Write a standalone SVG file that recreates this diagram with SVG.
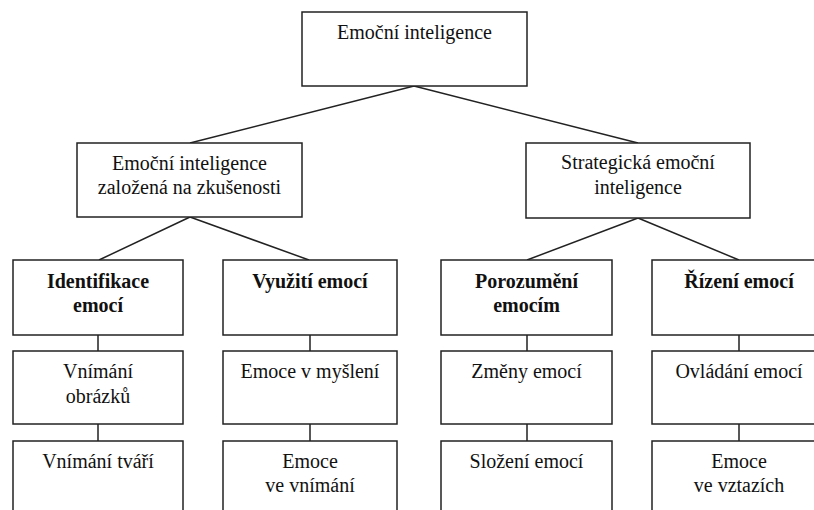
<svg xmlns="http://www.w3.org/2000/svg" width="814" height="510" viewBox="0 0 814 510">
<style>
.box{fill:#fff;stroke:#222;stroke-width:1.5}
.c{stroke:#222;stroke-width:1.5;fill:none}
text{font-family:"Liberation Serif","Times New Roman",serif;font-size:20px;fill:#111;text-anchor:middle}
.b{font-weight:bold}
</style>
<rect width="814" height="510" fill="#fff"/>
<g id="connectors">
<path class="c" d="M414 86 L190 143 M414 86 L638 143"/>
<path class="c" d="M190 217 L99 260 M190 217 L309 260"/>
<path class="c" d="M638 218 L527 260 M638 218 L739 260"/>
<path class="c" d="M98 335 V351 M98 424 V441"/>
<path class="c" d="M310 335 V351 M310 424 V441"/>
<path class="c" d="M527 335 V351 M527 424 V441"/>
<path class="c" d="M739 335 V351 M739 424 V441"/>
</g>
<g id="root"><rect class="box" x="302" y="12" width="225" height="74"/><text x="414.5" y="39">Emoční inteligence</text></g>
<g id="exp"><rect class="box" x="77" y="143" width="225" height="74"/><text x="189.5" y="170">Emoční inteligence</text><text x="189.5" y="194">založená na zkušenosti</text></g>
<g id="strat"><rect class="box" x="526" y="143" width="224" height="75"/><text x="638" y="169">Strategická emoční</text><text x="638" y="194">inteligence</text></g>
<g id="ident"><rect class="box" x="13" y="260" width="170" height="75"/><text class="b" x="98" y="288">Identifikace</text><text class="b" x="98" y="312">emocí</text></g>
<g id="vyuziti"><rect class="box" x="223" y="260" width="174" height="75"/><text class="b" x="310" y="288">Využití emocí</text></g>
<g id="porozumeni"><rect class="box" x="441" y="260" width="171" height="75"/><text class="b" x="526.5" y="288">Porozumění</text><text class="b" x="526.5" y="312">emocím</text></g>
<g id="rizeni"><rect class="box" x="652" y="260" width="174" height="75"/><text class="b" x="739" y="288">Řízení emocí</text></g>
<g id="obrazku"><rect class="box" x="13" y="351" width="170" height="73"/><text x="98" y="378">Vnímání</text><text x="98" y="403">obrázků</text></g>
<g id="mysleni"><rect class="box" x="223" y="351" width="174" height="73"/><text x="310" y="378">Emoce v myšlení</text></g>
<g id="zmeny"><rect class="box" x="441" y="351" width="171" height="73"/><text x="526.5" y="378">Změny emocí</text></g>
<g id="ovladani"><rect class="box" x="652" y="351" width="174" height="73"/><text x="739" y="378">Ovládání emocí</text></g>
<g id="tvari"><rect class="box" x="13" y="441" width="170" height="80"/><text x="98" y="468">Vnímání tváří</text></g>
<g id="vnimani"><rect class="box" x="223" y="441" width="174" height="80"/><text x="310" y="468">Emoce</text><text x="310" y="492">ve vnímání</text></g>
<g id="slozeni"><rect class="box" x="441" y="441" width="171" height="80"/><text x="526.5" y="468">Složení emocí</text></g>
<g id="vztazich"><rect class="box" x="652" y="441" width="174" height="80"/><text x="739" y="468">Emoce</text><text x="739" y="492">ve vztazích</text></g>
</svg>
